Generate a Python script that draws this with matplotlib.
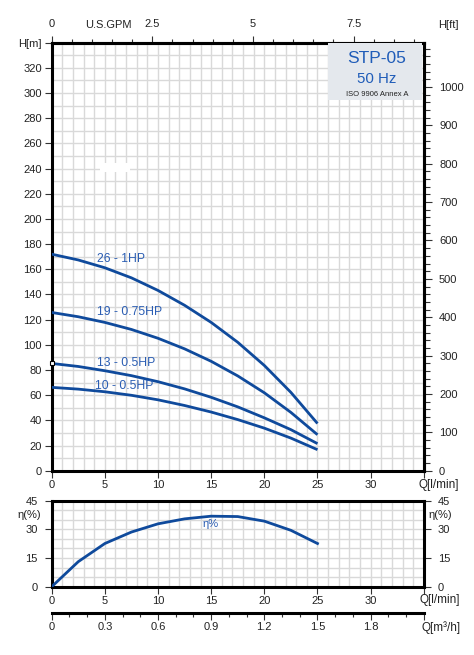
import matplotlib
matplotlib.use('Agg')
import matplotlib.pyplot as plt
import numpy as np
from matplotlib.ticker import MultipleLocator, FixedLocator, FixedFormatter
from matplotlib.patches import Rectangle

plt.rcParams['font.family'] = ['Liberation Sans', 'DejaVu Sans']

# ---------------- data ----------------
flow_lpm = [0, 2.5, 5, 7.5, 10, 12.5, 15, 17.5, 20, 22.5, 25]
head_26_1hp = [172, 167.4, 161.2, 153.2, 143.2, 131.4, 117.8, 102, 83.6, 62.2, 37.5]
head_19_075hp = [125.7, 122.3, 117.8, 112.2, 105.2, 96.8, 86.9, 75.3, 61.9, 46.3, 28.6]
head_13_05hp = [85.2, 82.8, 79.4, 75.5, 70.7, 65, 58.3, 50.7, 42, 32.6, 21.5]
head_10_05hp = [66.2, 64.8, 62.7, 59.9, 56.3, 51.8, 46.6, 40.6, 33.8, 25.9, 16.7]
efficiency = [0, 13.1, 22.6, 28.6, 32.9, 35.5, 36.9, 36.7, 34.3, 29.5, 22.6]

curve_names = ["26 - 1HP", "19 - 0.75HP", "13 - 0.5HP", "10 - 0.5HP"]

q_ticks = [0, 5, 10, 15, 20, 25, 30, 35]
q_labels = ["0", "5", "10", "15", "20", "25", "30", ""]
h_ticks = list(range(0, 341, 20))
h_labels = [str(v) for v in range(0, 321, 20)] + ["H[m]"]
ft_ticks = list(range(0, 1001, 100))
gpm_ticks = [0, 2.5, 5, 7.5]
gpm_labels = ["0", "2.5", "5", "7.5"]
eta_ticks = [0, 15, 30, 45]
m3h_ticks = [0, 0.3, 0.6, 0.9, 1.2, 1.5, 1.8, 2.1]
m3h_labels = ["0", "0.3", "0.6", "0.9", "1.2", "1.5", "1.8", ""]

# ---------------- style ----------------
W, H = 474, 655
CURVE = '#0f4a9c'
LABEL_BLUE = '#2a5db3'
TITLE_BLUE = '#1f5cb8'
GRID = '#d9d9d9'
TXT = '#222222'
SPINE_LW = 2.2
FS = 8

fig = plt.figure(figsize=(W / 100, H / 100), dpi=100)

def fx(px):
    return px / W

def fy(py):
    return 1 - py / H

# ---------------- main head chart ----------------
ax = fig.add_axes([fx(51.7), fy(470.7), fx(423.8) - fx(51.7), fy(42.7) - fy(470.7)])
ax.set_xlim(0, 35)
ax.set_ylim(0, 340)
ax.set_axisbelow(True)
ax.xaxis.set_major_locator(FixedLocator(q_ticks))
ax.xaxis.set_major_formatter(FixedFormatter(q_labels))
ax.xaxis.set_minor_locator(MultipleLocator(1))
ax.yaxis.set_major_locator(FixedLocator(h_ticks))
ax.yaxis.set_major_formatter(FixedFormatter(h_labels))
ax.yaxis.set_minor_locator(MultipleLocator(10))
ax.grid(which='both', color=GRID, lw=1.0)
ax.tick_params(which='major', direction='out', length=5, width=0.8, pad=2,
               labelsize=FS, labelcolor=TXT, color='#333333')
ax.tick_params(which='minor', length=0)
for s in ax.spines.values():
    s.set_linewidth(SPINE_LW)
    s.set_color('black')

series = [head_26_1hp, head_19_075hp, head_13_05hp, head_10_05hp]
for vals in series:
    ax.plot(flow_lpm, vals, color=CURVE, lw=2.0, solid_capstyle='butt',
            solid_joinstyle='round', zorder=3)

ax.plot(flow_lpm[0], head_13_05hp[0], marker='s', ms=3.5, mfc='white', mec='black',
        mew=0.8, clip_on=False, zorder=5)

label_pos = [(4.23, 168), (4.23, 126.4), (4.23, 85.9), (4.07, 67.6)]
for name, (lx, ly) in zip(curve_names, label_pos):
    ax.text(lx, ly, name, color=LABEL_BLUE, fontsize=8.8, ha='left', va='center', zorder=4)

# small white blot present in the reference
ax.add_patch(Rectangle((4.5, 237.5), 2.9, 7.0, facecolor='white', edgecolor='none', zorder=2))

# title box
ax.add_patch(Rectangle((0.743, 0.866), 0.252, 0.133, transform=ax.transAxes,
                       facecolor='#e4e8ed', edgecolor='none', zorder=4))
ax.text(0.8745, 0.962, "STP-05", transform=ax.transAxes, ha='center', va='center',
        fontsize=12.5, color=TITLE_BLUE, zorder=5)
ax.text(0.8745, 0.915, "50 Hz", transform=ax.transAxes, ha='center', va='center',
        fontsize=10.8, color=TITLE_BLUE, zorder=5)
ax.text(0.8745, 0.878, "ISO 9906 Annex A", transform=ax.transAxes, ha='center', va='center',
        fontsize=5.5, color='#222222', zorder=5)

# top U.S.GPM axis
secx = ax.secondary_xaxis('top', functions=(lambda q: q / 3.785411784, lambda g: g * 3.785411784))
secx.xaxis.set_major_locator(FixedLocator(gpm_ticks))
secx.xaxis.set_major_formatter(FixedFormatter(gpm_labels))
secx.xaxis.set_minor_locator(MultipleLocator(0.5))
secx.tick_params(which='major', direction='out', length=5, width=0.8, pad=5,
                 labelsize=FS, labelcolor=TXT, color='#333333')
secx.tick_params(which='minor', direction='out', length=3, width=0.8, color='#333333')
secx.spines['top'].set_linewidth(SPINE_LW)

# right H[ft] axis
secy = ax.secondary_yaxis('right', functions=(lambda m: m / 0.3048, lambda f: f * 0.3048))
secy.yaxis.set_major_locator(FixedLocator(ft_ticks))
secy.yaxis.set_minor_locator(MultipleLocator(20))
secy.tick_params(which='major', direction='out', length=6, width=0.8, pad=5,
                 labelsize=FS, labelcolor=TXT, color='#333333')
secy.tick_params(which='minor', direction='out', length=4, width=0.8, color='#333333')
secy.spines['right'].set_linewidth(SPINE_LW)

fig.text(fx(108), fy(25), "U.S.GPM", ha='center', va='center', fontsize=FS, color=TXT)
fig.text(fx(448), fy(25), "H[ft]", ha='center', va='center', fontsize=FS, color=TXT)
fig.text(fx(439), fy(485), "Q[l/min]", ha='center', va='center', fontsize=8.5, color=TXT)

# ---------------- efficiency chart ----------------
ax2 = fig.add_axes([fx(51.7), fy(586.7), fx(423.8) - fx(51.7), fy(500.7) - fy(586.7)])
ax2.set_xlim(0, 35)
ax2.set_ylim(0, 45)
ax2.set_axisbelow(True)
ax2.xaxis.set_major_locator(FixedLocator(q_ticks))
ax2.xaxis.set_major_formatter(FixedFormatter(q_labels))
ax2.xaxis.set_minor_locator(MultipleLocator(1))
ax2.yaxis.set_major_locator(FixedLocator(eta_ticks))
ax2.yaxis.set_minor_locator(MultipleLocator(5))
ax2.grid(which='both', color=GRID, lw=1.0)
ax2.tick_params(which='major', direction='out', length=5, width=0.8, pad=2,
                labelsize=FS, labelcolor=TXT, color='#333333',
                right=True, labelright=True)
ax2.tick_params(axis='y', which='major', labelright=True, pad=5)
ax2.tick_params(which='minor', length=0)
for s in ax2.spines.values():
    s.set_linewidth(SPINE_LW)
    s.set_color('black')

ax2.plot(flow_lpm, efficiency, color=CURVE, lw=2.0, solid_joinstyle='round', zorder=3)
ax2.text(14.9, 32.8, "η%", color=LABEL_BLUE, fontsize=8, ha='center', va='center', zorder=4)

fig.text(fx(29), fy(515.5), "η(%)", ha='center', va='center', fontsize=FS, color=TXT)
fig.text(fx(440), fy(515.5), "η(%)", ha='center', va='center', fontsize=FS, color=TXT)
fig.text(fx(440), fy(600.5), "Q[l/min]", ha='center', va='center', fontsize=8.5, color=TXT)

# m3/h axis below
sec3 = ax2.secondary_xaxis(-26 / 86, functions=(lambda q: q * 0.06, lambda m: m / 0.06))
sec3.xaxis.set_major_locator(FixedLocator(m3h_ticks))
sec3.xaxis.set_major_formatter(FixedFormatter(m3h_labels))
sec3.xaxis.set_minor_locator(MultipleLocator(0.1))
sec3.tick_params(which='major', direction='out', length=5, width=0.8, pad=2,
                 labelsize=FS, labelcolor=TXT, color='#333333')
sec3.tick_params(which='minor', direction='out', length=3, width=0.8, color='#333333')
sec3.spines['bottom'].set_linewidth(SPINE_LW)
fig.text(fx(441), fy(628), "Q[m³/h]", ha='center', va='center', fontsize=8.5, color=TXT)

fig.savefig('out.png', dpi=100)
